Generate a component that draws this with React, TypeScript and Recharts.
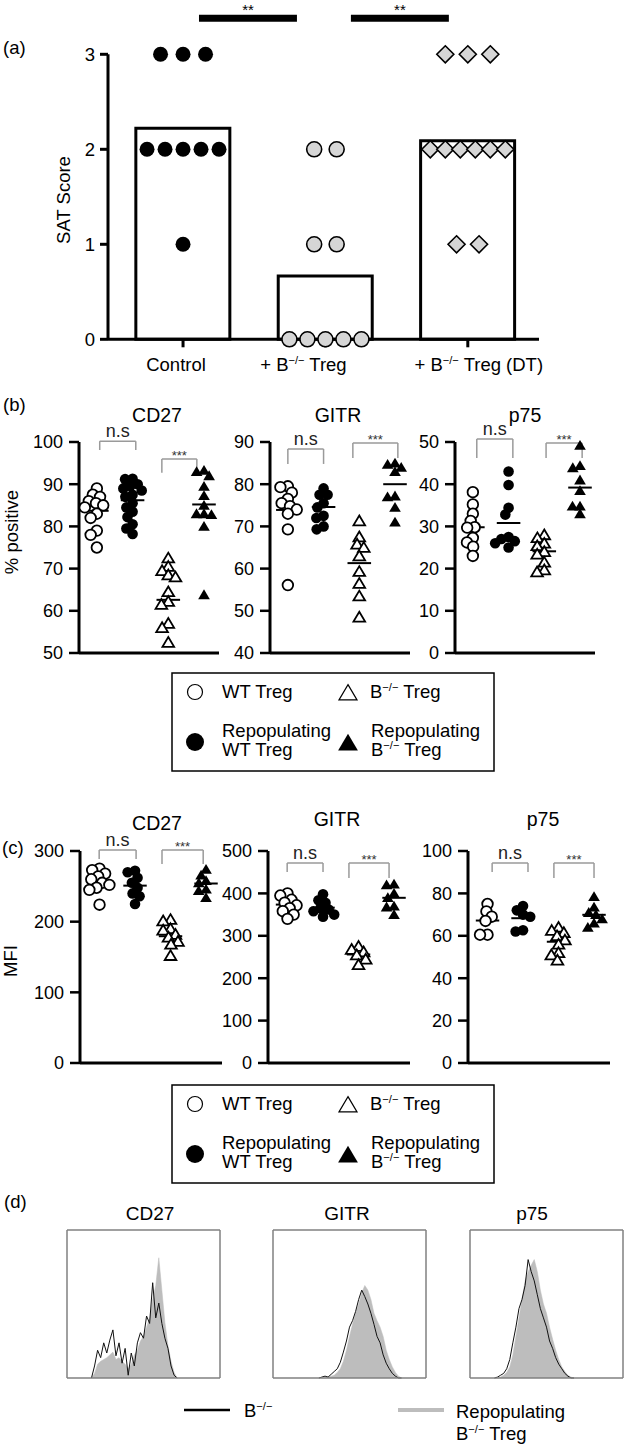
import React from 'react';
import { ComposedChart, Bar, Scatter, XAxis, YAxis, ReferenceLine, Line, Area } from 'recharts';

const FONT = '"Liberation Sans", Arial, Helvetica, sans-serif';

// ---------- (a) SAT score ----------
const satCategories = ['Control', '+ B−/− Treg', '+ B−/− Treg (DT)'];
const satControl = [3, 3, 3, 2, 2, 2, 2, 2, 1];
const satBTreg = [2, 2, 1, 1, 0, 0, 0, 0, 0];
const satBTregDT = [3, 3, 3, 2, 2, 2, 2, 2, 2, 1, 1];
const satTicks = [0, 1, 2, 3];
const satSignif = ['**', '**'];

// ---------- (b) % positive ----------
const pctCD27WT = [89, 87.5, 87, 86, 85.5, 85, 84.5, 83, 82, 79, 78, 75];
const pctCD27RepWT = [91.3, 91.2, 90, 89.6, 89, 88.5, 87.5, 87, 85.5, 84.5, 83.5, 82.2, 80.5, 79.5, 78.2];
const pctCD27B = [72.5, 70.5, 69.5, 68.5, 68, 64.5, 62.2, 61.5, 57, 56, 52.5];
const pctCD27RepB = [93.3, 93, 92, 89.5, 87.3, 85, 83, 83, 82.8, 80, 63.8];
const pctCD27Means = [83.7, 86.2, 62.6, 85.2];

const pctGITRWT = [79.5, 79.3, 78, 76.5, 75.5, 74.8, 74, 73, 69.3, 56.1];
const pctGITRRepWT = [79, 77.5, 77.5, 75.5, 74.5, 72.5, 72, 70, 69.3];
const pctGITRB = [71.3, 67.5, 65.8, 65, 63, 59.3, 56.5, 53.5, 48.5];
const pctGITRRepB = [85, 84.7, 84, 83, 77.2, 77, 74.5, 71];
const pctGITRMeans = [73.9, 74.6, 61.3, 80];

const pctP75WT = [38.1, 35.2, 33, 31.3, 29.8, 29.7, 27.3, 26.2, 25.2, 23];
const pctP75RepWT = [43, 39.8, 34.4, 32.8, 27.5, 26.5, 27, 26, 25];
const pctP75B = [28, 27.3, 26, 25.4, 24, 23.4, 21.5, 19.7, 19.2];
const pctP75RepB = [49.2, 44.4, 43.9, 41, 38.5, 34.8, 34.8, 33];
const pctP75Means = [29.8, 30.8, 24.1, 39.2];

// ---------- (c) MFI ----------
const mfiCD27WT = [275, 273, 268, 264, 260, 255, 252, 248, 245, 224];
const mfiCD27RepWT = [272, 270, 262, 255, 248, 240, 236, 225];
const mfiCD27B = [203, 201, 190, 188, 182, 178, 172, 168, 152];
const mfiCD27RepB = [274, 266, 258, 255, 246, 244, 234];
const mfiCD27Means = [256.5, 251, 179.4, 254];

const mfiGITRWT = [400, 395, 385, 378, 372, 365, 358, 350, 340];
const mfiGITRRepWT = [398, 384, 378, 365, 362, 358, 350, 345];
const mfiGITRB = [275, 268, 262, 255, 245, 232];
const mfiGITRRepB = [422, 420, 400, 390, 370, 368, 350];
const mfiGITRMeans = [373.6, 366.4, 256, 389.6];

const mfiP75WT = [75, 71.5, 69, 67, 60.5, 60.5];
const mfiP75RepWT = [74, 72, 70, 69, 62.6, 62];
const mfiP75B = [64, 62.5, 61.5, 60, 58, 56, 52, 51, 48.5];
const mfiP75RepB = [78.5, 73.5, 71, 70, 68, 66, 64];
const mfiP75Means = [67.2, 68.3, 57.2, 69.9];

// ---------- (d) histograms ----------
const histBinWidth = 0.08;
const histXTicks = [0, 1, 2, 3, 4];
const histYTicks = [0, 40, 80, 120, 160];
const cd27HistStart = 0.64;
const cd27Black = [0, 13, 30, 22, 38, 27, 41, 52, 24, 38, 16, 32, 3, 27, 13, 38, 49, 43, 67, 59, 103, 65, 81, 59, 43, 32, 13, 3, 0];
const cd27Gray = [0, 5, 15, 18, 20, 22, 25, 28, 20, 22, 18, 15, 10, 15, 25, 30, 40, 45, 55, 65, 85, 100, 130, 95, 60, 35, 18, 6, 0];
const gitrHistStart = 1.2;
const gitrBlack = [0, 1, 2, 1, 4, 7, 10, 17, 28, 40, 55, 62, 72, 85, 95, 88, 80, 70, 58, 45, 38, 25, 16, 10, 5, 2, 0, 0];
const gitrGray = [0, 0, 0, 1, 2, 3, 6, 10, 18, 30, 45, 58, 70, 80, 92, 100, 95, 85, 70, 62, 55, 45, 30, 20, 12, 6, 2, 0];
const p75HistStart = 0.64;
const p75Black = [0, 1, 3, 5, 10, 20, 38, 55, 75, 85, 100, 128, 115, 105, 90, 75, 65, 55, 40, 32, 22, 15, 10, 5, 2, 0, 0];
const p75Gray = [0, 0, 1, 3, 6, 12, 25, 45, 65, 85, 105, 115, 122, 128, 115, 95, 80, 70, 55, 42, 30, 20, 12, 7, 3, 1, 0];

const legendLabels = ['WT Treg', 'B−/− Treg', 'Repopulating', 'WT Treg', 'Repopulating', 'B−/− Treg'];
const histLegendLabels = ['B−/−', 'Repopulating', 'B−/− Treg'];

// ---------- helpers ----------
const mean = (a: number[]) => a.reduce((s, v) => s + v, 0) / a.length;

function rowJitter(values: number[]): number[] {
  const groups = new Map<number, number[]>();
  values.forEach((v, i) => {
    const g = groups.get(v) || [];
    g.push(i);
    groups.set(v, g);
  });
  const out = new Array(values.length).fill(0);
  groups.forEach((idx) => {
    const n = idx.length;
    const s = Math.min(22.5, 90 / n);
    idx.forEach((i, k) => {
      out[i] = (k - (n - 1) / 2) * s;
    });
  });
  return out;
}

function swarm(values: number[], pxPerY: number, dMin: number): number[] {
  const placed: { x: number; y: number }[] = [];
  const out = new Array(values.length).fill(0);
  const order = values.map((_, i) => i).sort((a, b) => values[b] - values[a]);
  for (const i of order) {
    const y = values[i] * pxPerY;
    const cands = [0];
    for (const p of placed) {
      const dy = Math.abs(p.y - y);
      if (dy < dMin) {
        const dx = Math.sqrt(dMin * dMin - dy * dy);
        cands.push(p.x + dx, p.x - dx);
      }
    }
    cands.sort((a, b) => Math.abs(a) - Math.abs(b) || a - b);
    let chosen = 0;
    for (const c of cands) {
      if (placed.every((p) => (p.x - c) ** 2 + (p.y - y) ** 2 >= dMin * dMin - 0.01)) {
        chosen = c;
        break;
      }
    }
    placed.push({ x: chosen, y });
    out[i] = chosen;
  }
  return out;
}

function rich(s: string, fs: number) {
  const parts = s.split('−/−');
  const out: any[] = [];
  parts.forEach((p, i) => {
    if (i > 0) {
      out.push(
        <tspan key={'s' + i} dy={-fs * 0.38} fontSize={fs * 0.6}>
          −/−
        </tspan>
      );
      if (p) out.push(<tspan key={'p' + i} dy={fs * 0.38}>{p}</tspan>);
    } else if (p) {
      out.push(<tspan key={'p' + i}>{p}</tspan>);
    }
  });
  return out;
}

type Kind = 'oc' | 'fc' | 'ot' | 'ft';
const KINDS: Kind[] = ['oc', 'fc', 'ot', 'ft'];

function Marker({ kind, cx, cy, s, sw = 1.8 }: { kind: Kind; cx: number; cy: number; s: number; sw?: number }) {
  if (kind === 'oc') return <circle cx={cx} cy={cy} r={s} fill="#fff" stroke="#000" strokeWidth={sw} />;
  if (kind === 'fc') return <circle cx={cx} cy={cy} r={s} fill="#000" />;
  const h = s * 1.85;
  const w = s * 2.2;
  const d = `M${cx},${cy - h * 0.55} L${cx + w / 2},${cy + h * 0.45} L${cx - w / 2},${cy + h * 0.45} Z`;
  if (kind === 'ot') return <path d={d} fill="#fff" stroke="#000" strokeWidth={sw} strokeLinejoin="miter" />;
  return <path d={d} fill="#000" />;
}

// ---------- Panel (a) ----------
function SatTick(props: any) {
  const { x, y, payload } = props;
  const i = payload.value as number;
  const dx = [-7, -22, 11][i] ?? 0;
  const label = satCategories[i] ?? '';
  return (
    <text x={x + dx} y={y + 22} textAnchor="middle" fontSize={18.5} fontFamily={FONT} fill="#000">
      {rich(label, 18.5)}
    </text>
  );
}

function PanelA() {
  const plotL = 108, plotR = 539, plotT = 54.3, plotB = 339.3;
  const yW = 50, xH = 44, mr = 40;
  const xDomain: [number, number] = [-0.527, 2.5];
  const pxPerX = (plotR - plotL) / (xDomain[1] - xDomain[0]);
  const groups = [satControl, satBTreg, satBTregDT];
  const pts = groups.map((g, gi) => {
    const j = rowJitter(g);
    return g.map((v, k) => ({ x: gi + j[k] / pxPerX, y: v }));
  });
  const bars = groups.map((g, gi) => ({ name: satCategories[gi], x: gi, y: mean(g) }));
  const sigBars = [
    { x1: 0.112, x2: 0.8, label: satSignif[0] },
    { x1: 1.179, x2: 1.867, label: satSignif[1] },
  ];
  // category band for the bars: centres at x = 0, 1, 2 of the numeric axis
  const padL = (0 - xDomain[0]) * pxPerX - pxPerX / 2;
  const padR = (xDomain[1] - 2) * pxPerX - pxPerX / 2;
  return (
    <div style={{ position: 'absolute', left: plotL - yW, top: 0 }}>
      <ComposedChart
        width={yW + (plotR - plotL) + mr}
        height={plotB + xH}
        data={bars}
        margin={{ top: plotT, right: mr, bottom: 0, left: 0 }}
      >
        <XAxis
          type="number"
          dataKey="x"
          domain={xDomain}
          ticks={[0, 1, 2]}
          interval={0}
          height={xH}
          tickSize={8}
          tickMargin={2}
          stroke="#000"
          axisLine={{ stroke: '#000', strokeWidth: 3 }}
          tickLine={{ stroke: '#000', strokeWidth: 3 }}
          tick={(p: any) => <SatTick {...p} />}
        />
        <XAxis xAxisId="cat" type="category" dataKey="name" hide padding={{ left: Math.max(0, padL), right: Math.max(0, padR) }} />
        <YAxis
          type="number"
          dataKey="y"
          domain={[0, 3]}
          ticks={satTicks}
          interval={0}
          width={yW}
          tickSize={8}
          tickMargin={5}
          stroke="#000"
          axisLine={{ stroke: '#000', strokeWidth: 3 }}
          tickLine={{ stroke: '#000', strokeWidth: 3 }}
          tick={{ fill: '#000', fontSize: 18.5, fontFamily: FONT }}
        />
        <Bar xAxisId="cat" dataKey="y" barSize={94} fill="#fff" stroke="#000" strokeWidth={3} isAnimationActive={false} />
        {sigBars.map((b, i) => (
          <ReferenceLine
            key={'sig' + i}
            segment={[{ x: b.x1, y: 3.38 }, { x: b.x2, y: 3.38 }]}
            stroke="#000"
            strokeWidth={7}
            ifOverflow="visible"
            label={{ value: b.label, position: 'top', offset: 3, fill: '#000', fontSize: 15, fontFamily: FONT }}
          />
        ))}
        <Scatter
          data={pts[0]}
          dataKey="y"
          isAnimationActive={false}
          shape={(p: any) => <circle cx={p.cx} cy={p.cy} r={7.5} fill="#000" />}
        />
        <Scatter
          data={pts[1]}
          dataKey="y"
          isAnimationActive={false}
          shape={(p: any) => <circle cx={p.cx} cy={p.cy} r={7.5} fill="#d6d6d6" stroke="#000" strokeWidth={1.6} />}
        />
        <Scatter
          data={pts[2]}
          dataKey="y"
          isAnimationActive={false}
          shape={(p: any) => (
            <path
              d={`M${p.cx},${p.cy - 8.5} L${p.cx + 8.5},${p.cy} L${p.cx},${p.cy + 8.5} L${p.cx - 8.5},${p.cy} Z`}
              fill="#d6d6d6"
              stroke="#000"
              strokeWidth={1.6}
            />
          )}
        />
      </ComposedChart>
    </div>
  );
}

// ---------- Dot plots (b), (c) ----------
type Bracket = { x1: number; x2: number; y: number; drop: number; label: string };

function DotPlot(props: {
  left: number;
  top: number;
  plotW: number;
  plotH: number;
  xDomain: [number, number];
  yDomain: [number, number];
  yTicks: number[];
  groups: number[][];
  means: number[];
  brackets: Bracket[];
}) {
  const { left, top, plotW, plotH, xDomain, yDomain, yTicks, groups, means, brackets } = props;
  const yW = 52, mt = 50, mr = 8, xH = 14;
  const pxPerX = plotW / (xDomain[1] - xDomain[0]);
  const pxPerY = plotH / (yDomain[1] - yDomain[0]);
  const data = groups.map((vals, gi) => {
    const off = swarm(vals, pxPerY, 7.5);
    return vals.map((v, k) => ({ x: gi + off[k] / pxPerX, y: v }));
  });
  const bStroke = '#9a9a9a';
  return (
    <div style={{ position: 'absolute', left: left - yW, top: top - mt }}>
      <ComposedChart width={yW + plotW + mr} height={mt + plotH + xH} margin={{ top: mt, right: mr, bottom: 0, left: 0 }}>
        <XAxis
          type="number"
          dataKey="x"
          domain={xDomain}
          ticks={[0, 1, 2, 3]}
          interval={0}
          tick={false}
          tickSize={8}
          height={xH}
          stroke="#000"
          axisLine={{ stroke: '#000', strokeWidth: 3 }}
          tickLine={{ stroke: '#000', strokeWidth: 2.5 }}
        />
        <YAxis
          type="number"
          dataKey="y"
          domain={yDomain}
          ticks={yTicks}
          interval={0}
          width={yW}
          tickSize={10}
          tickMargin={6}
          stroke="#000"
          axisLine={{ stroke: '#000', strokeWidth: 3 }}
          tickLine={{ stroke: '#000', strokeWidth: 2.5 }}
          tick={{ fill: '#000', fontSize: 18, fontFamily: FONT }}
        />
        {data.map((d, gi) => (
          <Scatter
            key={'s' + gi}
            data={d}
            dataKey="y"
            isAnimationActive={false}
            shape={(p: any) => <Marker kind={KINDS[gi]} cx={p.cx} cy={p.cy} s={5.3} />}
          />
        ))}
        {means.map((m, gi) => (
          <ReferenceLine
            key={'m' + gi}
            segment={[{ x: gi - 0.33, y: m }, { x: gi + 0.33, y: m }]}
            stroke="#000"
            strokeWidth={2}
            ifOverflow="visible"
          />
        ))}
        {brackets.map((b, bi) => (
          <ReferenceLine
            key={'bt' + bi}
            segment={[{ x: b.x1, y: b.y }, { x: b.x2, y: b.y }]}
            stroke={bStroke}
            strokeWidth={1.5}
            ifOverflow="visible"
            label={{
              value: b.label,
              position: 'top',
              offset: b.label === 'n.s' ? 4 : -1,
              fill: b.label === 'n.s' ? '#222' : '#333',
              fontSize: b.label === 'n.s' ? 18 : 13,
              fontFamily: FONT,
            }}
          />
        ))}
        {brackets.map((b, bi) => (
          <ReferenceLine
            key={'bl' + bi}
            segment={[{ x: b.x1, y: b.y }, { x: b.x1, y: b.drop }]}
            stroke={bStroke}
            strokeWidth={1.5}
            ifOverflow="visible"
          />
        ))}
        {brackets.map((b, bi) => (
          <ReferenceLine
            key={'br' + bi}
            segment={[{ x: b.x2, y: b.y }, { x: b.x2, y: b.drop }]}
            stroke={bStroke}
            strokeWidth={1.5}
            ifOverflow="visible"
          />
        ))}
      </ComposedChart>
    </div>
  );
}

// ---------- Histograms (d) ----------
function Histo({ left, start, gray, black }: { left: number; start: number; gray: number[]; black: number[] }) {
  const top = 1230, plotW = 153, plotH = 148;
  const yW = 10, xH = 10, tH = 2, rW = 2;
  const data = gray.map((g, i) => ({ x: start + i * histBinWidth, gray: g, black: black[i] }));
  const ax = { stroke: '#808080', strokeWidth: 1.5 };
  return (
    <div style={{ position: 'absolute', left: left - yW, top: top - tH }}>
      <ComposedChart width={yW + plotW + rW} height={tH + plotH + xH} data={data} margin={{ top: 0, right: 0, bottom: 0, left: 0 }}>
        <XAxis
          type="number"
          dataKey="x"
          domain={[0, 4]}
          ticks={histXTicks}
          interval={0}
          tick={false}
          tickSize={5}
          height={xH}
          stroke="#808080"
          axisLine={ax}
          tickLine={{ stroke: '#808080', strokeWidth: 1.2 }}
        />
        <XAxis xAxisId="top" orientation="top" type="number" domain={[0, 4]} tick={false} tickLine={false} height={tH} axisLine={ax} stroke="#808080" />
        <YAxis
          type="number"
          domain={[0, 160]}
          ticks={histYTicks}
          interval={0}
          tick={false}
          tickSize={5}
          width={yW}
          stroke="#808080"
          axisLine={ax}
          tickLine={{ stroke: '#808080', strokeWidth: 1.2 }}
        />
        <YAxis yAxisId="right" orientation="right" type="number" domain={[0, 160]} tick={false} tickLine={false} width={rW} axisLine={ax} stroke="#808080" />
        <Area type="linear" dataKey="gray" fill="#bdbdbd" fillOpacity={1} stroke="#bdbdbd" strokeWidth={0.5} isAnimationActive={false} dot={false} />
        <Line type="linear" dataKey="black" stroke="#111" strokeWidth={1} dot={false} isAnimationActive={false} />
      </ComposedChart>
    </div>
  );
}

// ---------- Legend box ----------
function LegendBox({ top }: { top: number }) {
  const fs = 18.5;
  return (
    <g fontFamily={FONT} fontSize={fs} fill="#000">
      <rect x={172} y={top} width={322} height={98} fill="none" stroke="#000" strokeWidth={1.5} />
      <Marker kind="oc" cx={195} cy={top + 19} s={7.5} sw={1.2} />
      <text x={222} y={top + 25}>{rich(legendLabels[0], fs)}</text>
      <Marker kind="ot" cx={348} cy={top + 20} s={8.2} sw={1.2} />
      <text x={370} y={top + 25}>{rich(legendLabels[1], fs)}</text>
      <Marker kind="fc" cx={195} cy={top + 69} s={9} />
      <text x={222} y={top + 64}>{rich(legendLabels[2], fs)}</text>
      <text x={222} y={top + 83}>{rich(legendLabels[3], fs)}</text>
      <Marker kind="ft" cx={348} cy={top + 70} s={9} />
      <text x={371} y={top + 64}>{rich(legendLabels[4], fs)}</text>
      <text x={371} y={top + 83}>{rich(legendLabels[5], fs)}</text>
    </g>
  );
}

function Overlay() {
  const fs = 18.5;
  return (
    <svg
      width={625}
      height={1445}
      style={{ position: 'absolute', left: 0, top: 0, pointerEvents: 'none' }}
      fontFamily={FONT}
    >
      <g fontSize={fs} fill="#000">
        <text x={3} y={54}>(a)</text>
        <text transform="translate(69.5,200) rotate(-90)" textAnchor="middle">SAT Score</text>

        <text x={3} y={411}>(b)</text>
        <text transform="translate(18,532) rotate(-90)" textAnchor="middle">% positive</text>
        <text x={157} y={422} textAnchor="middle" fontSize={19.5}>CD27</text>
        <text x={338} y={422} textAnchor="middle" fontSize={19.5}>GITR</text>
        <text x={525} y={422} textAnchor="middle" fontSize={19.5}>p75</text>

        <text x={2} y={854}>(c)</text>
        <text transform="translate(17,961) rotate(-90)" textAnchor="middle">MFI</text>
        <text x={157} y={830} textAnchor="middle" fontSize={19.5}>CD27</text>
        <text x={337} y={826} textAnchor="middle" fontSize={19.5}>GITR</text>
        <text x={543} y={826} textAnchor="middle" fontSize={19.5}>p75</text>

        <text x={4} y={1208}>(d)</text>
        <text x={150} y={1220} textAnchor="middle" fontSize={19}>CD27</text>
        <text x={347} y={1220} textAnchor="middle" fontSize={19}>GITR</text>
        <text x={532} y={1220} textAnchor="middle" fontSize={19}>p75</text>

        <line x1={184} x2={230} y1={1410} y2={1410} stroke="#000" strokeWidth={2.5} />
        <text x={244} y={1417}>{rich(histLegendLabels[0], fs)}</text>
        <line x1={398} x2={444} y1={1410} y2={1410} stroke="#bdbdbd" strokeWidth={4} />
        <text x={456} y={1418}>{rich(histLegendLabels[1], fs)}</text>
        <text x={456} y={1440}>{rich(histLegendLabels[2], fs)}</text>
      </g>
      <LegendBox top={673} />
      <LegendBox top={1085} />
    </svg>
  );
}

export default function App() {
  const bX: [number, number] = [-0.5, 3.42];
  const cX: [number, number] = [-0.55, 3.45];
  return (
    <div style={{ position: 'absolute', left: 0, top: 0, width: 625, height: 1445, background: '#fff', fontFamily: FONT }}>
      <PanelA />

      <DotPlot
        left={79} top={442} plotW={140} plotH={211}
        xDomain={bX} yDomain={[50, 100]} yTicks={[50, 60, 70, 80, 90, 100]}
        groups={[pctCD27WT, pctCD27RepWT, pctCD27B, pctCD27RepB]} means={pctCD27Means}
        brackets={[
          { x1: 0.08, x2: 1.09, y: 100.2, drop: 98.1, label: 'n.s' },
          { x1: 1.82, x2: 2.8, y: 96.0, drop: 92.7, label: '***' },
        ]}
      />
      <DotPlot
        left={270} top={442} plotW={140} plotH={211}
        xDomain={bX} yDomain={[40, 90]} yTicks={[40, 50, 60, 70, 80, 90]}
        groups={[pctGITRWT, pctGITRRepWT, pctGITRB, pctGITRRepB]} means={pctGITRMeans}
        brackets={[
          { x1: 0.0, x2: 1.0, y: 88.34, drop: 84.8, label: 'n.s' },
          { x1: 1.82, x2: 3.08, y: 89.76, drop: 86.2, label: '***' },
        ]}
      />
      <DotPlot
        left={455} top={442} plotW={140} plotH={211}
        xDomain={bX} yDomain={[0, 50]} yTicks={[0, 10, 20, 30, 40, 50]}
        groups={[pctP75WT, pctP75RepWT, pctP75B, pctP75RepB]} means={pctP75Means}
        brackets={[
          { x1: 0.11, x2: 1.12, y: 50.7, drop: 46.2, label: 'n.s' },
          { x1: 2.05, x2: 3.06, y: 49.76, drop: 46.2, label: '***' },
        ]}
      />

      <DotPlot
        left={80} top={851} plotW={142} plotH={212}
        xDomain={cX} yDomain={[0, 300]} yTicks={[0, 100, 200, 300]}
        groups={[mfiCD27WT, mfiCD27RepWT, mfiCD27B, mfiCD27RepB]} means={mfiCD27Means}
        brackets={[
          { x1: -0.01, x2: 1.03, y: 301.4, drop: 288.7, label: 'n.s' },
          { x1: 1.76, x2: 2.92, y: 301.4, drop: 281.6, label: '***' },
        ]}
      />
      <DotPlot
        left={268} top={851} plotW={142} plotH={212}
        xDomain={cX} yDomain={[0, 500]} yTicks={[0, 100, 200, 300, 400, 500]}
        groups={[mfiGITRWT, mfiGITRRepWT, mfiGITRB, mfiGITRRepB]} means={mfiGITRMeans}
        brackets={[
          { x1: -0.01, x2: 1.0, y: 471.7, drop: 450.5, label: 'n.s' },
          { x1: 1.73, x2: 2.86, y: 471.7, drop: 436.3, label: '***' },
        ]}
      />
      <DotPlot
        left={468} top={851} plotW={142} plotH={212}
        xDomain={cX} yDomain={[0, 100]} yTicks={[0, 20, 40, 60, 80, 100]}
        groups={[mfiP75WT, mfiP75RepWT, mfiP75B, mfiP75RepB]} means={mfiP75Means}
        brackets={[
          { x1: 0.13, x2: 1.14, y: 94.3, drop: 90.1, label: 'n.s' },
          { x1: 1.87, x2: 3.0, y: 94.3, drop: 87.3, label: '***' },
        ]}
      />

      <Histo left={67} start={cd27HistStart} gray={cd27Gray} black={cd27Black} />
      <Histo left={273} start={gitrHistStart} gray={gitrGray} black={gitrBlack} />
      <Histo left={470} start={p75HistStart} gray={p75Gray} black={p75Black} />

      <Overlay />
    </div>
  );
}
